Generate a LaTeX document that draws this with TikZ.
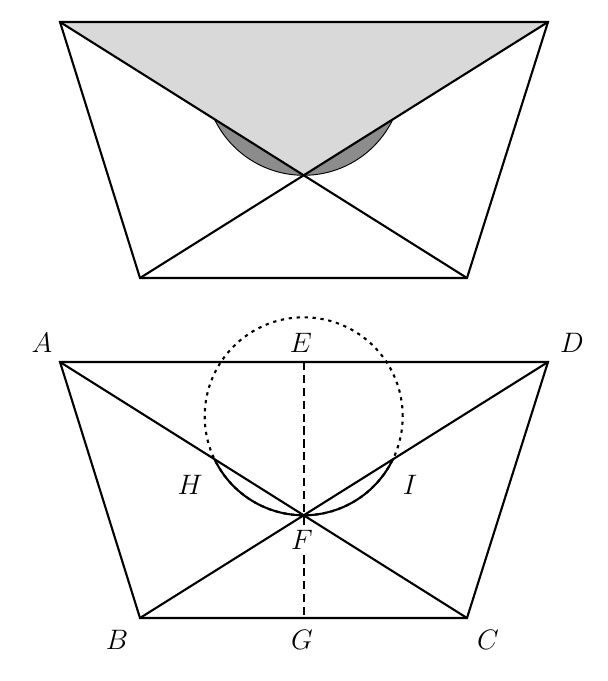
\documentclass[tikz,border=0pt]{standalone}
\usetikzlibrary{calc}
\begin{document}
\begin{tikzpicture}[x=0.015cm,y=0.015cm,font=\large]
\tikzstyle{edge}=[line width=0.9pt]
\tikzstyle{hidden}=[line width=0.9pt, dash pattern=on 1.4pt off 2pt]
\tikzstyle{height}=[line width=0.9pt, dash pattern=on 3.5pt off 2pt]
\tikzstyle{light}=[fill=black!15]
\tikzstyle{dark}=[fill=black!45, draw=black, line width=0.4pt]
\useasboundingbox (0,0) rectangle (608,-681);

% upper figure
\begin{scope}[shift={(0,340)}]
\coordinate (A1) at (60,-362);
\coordinate (D1) at (548,-362);
\coordinate (B1) at (140,-618);
\coordinate (C1) at (467,-618);
\coordinate (F1) at (intersection of A1--C1 and B1--D1);
\coordinate (O1) at ($(F1)+(0,99)$);
\begin{scope}
\clip (A1) -- (D1) -- (C1) -- (B1) -- cycle;
\path[dark] (O1) circle (99);
\end{scope}
\path[light] (A1) -- (D1) -- (F1) -- cycle;
\draw[edge] (A1) -- (D1) -- (C1) -- (B1) -- cycle;
\draw[edge] (A1) -- (C1);
\draw[edge] (B1) -- (D1);
\end{scope}

% lower figure
\coordinate (A) at (60,-362);
\coordinate (D) at (548,-362);
\coordinate (B) at (140,-618);
\coordinate (C) at (467,-618);
\coordinate (F) at (intersection of A--C and B--D);
\coordinate (E) at (F |- A);
\coordinate (G) at (F |- B);
\coordinate (O) at ($(F)+(0,99)$);
\coordinate (H) at ($(O)+(205.7:99)$);
\coordinate (I) at ($(O)+(334.3:99)$);

\draw[hidden] (O) circle (99);
\draw[edge] (H) arc (205.7:334.3:99);
\draw[edge] (A) -- (D) -- (C) -- (B) -- cycle;
\draw[edge] (A) -- (C);
\draw[edge] (B) -- (D);
\draw[height] (E) -- (G);

\node (lA) at (42,-343) {$A$};
\node (lD) at (572,-343) {$D$};
\node (lE) at (301,-343) {$E$};
\node (lH) at (190,-485) {$H$};
\node (lI) at (410,-485) {$I$};
\node[fill=white, inner sep=1pt] (lF) at (302,-540) {$F$};
\node (lB) at (117,-640) {$B$};
\node (lG) at (302,-640) {$G$};
\node (lC) at (488,-640) {$C$};
\end{tikzpicture}
\end{document}
